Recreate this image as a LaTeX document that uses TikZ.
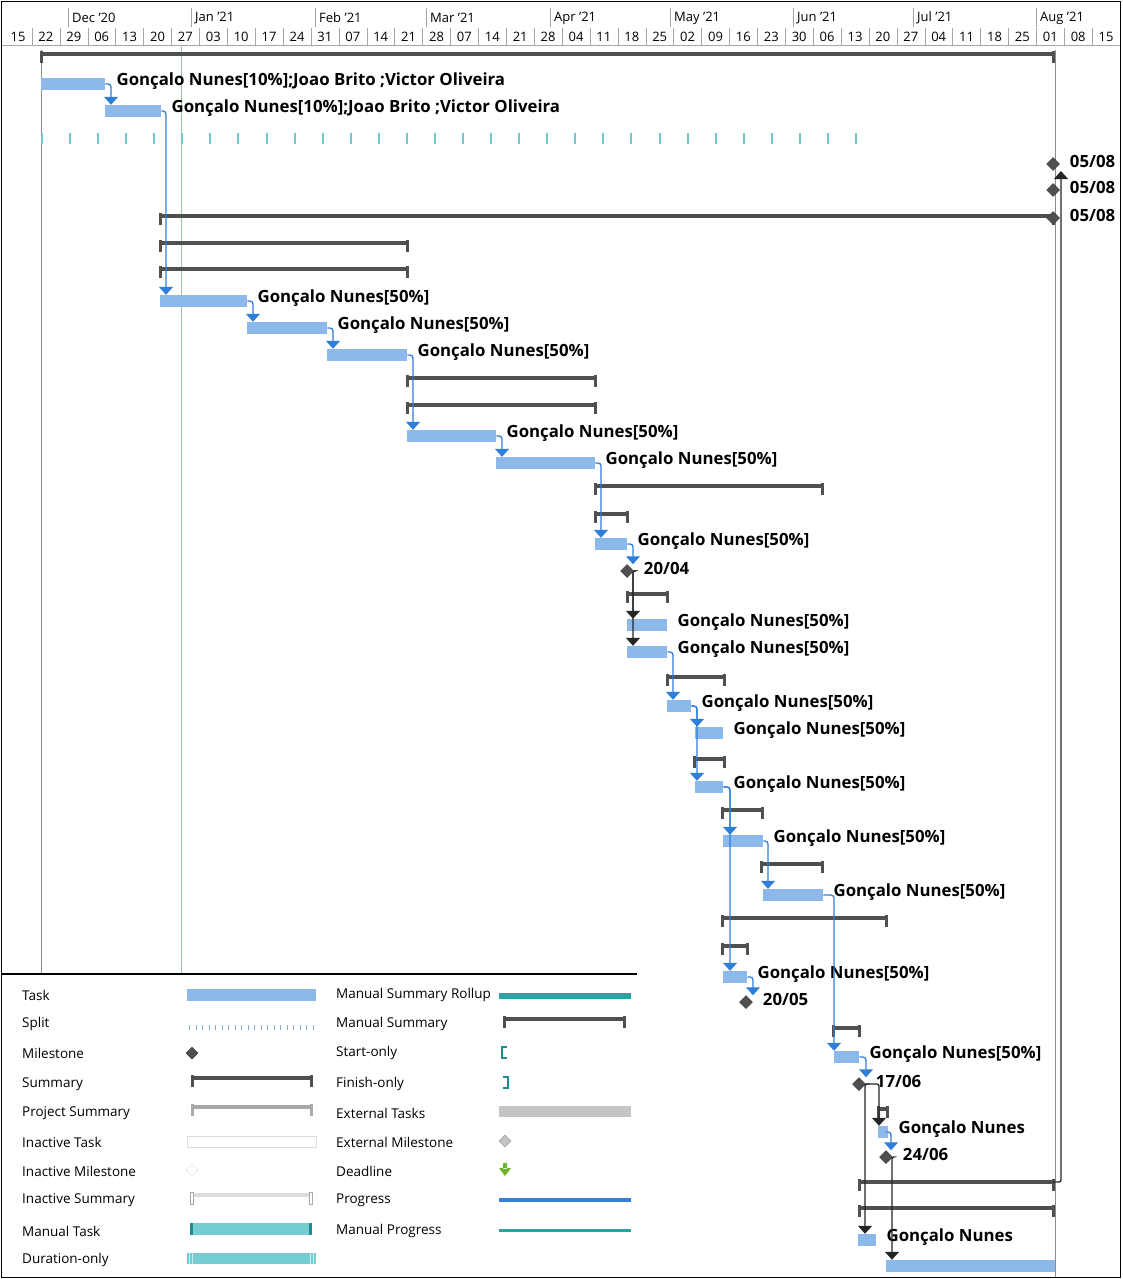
\documentclass[tikz,border=0pt]{standalone}
\usepackage{fontspec}
\setmainfont{Open Sans}
\usetikzlibrary{arrows.meta,positioning,shapes.geometric}
\definecolor{TaskBlue}{HTML}{8CB9EA}
\definecolor{LinkBlue}{HTML}{2F7ED8}
\definecolor{SumGray}{HTML}{505050}
\definecolor{TickTeal}{HTML}{6FC9CF}
\definecolor{RollTeal}{HTML}{2AA2A6}
\definecolor{ManTeal}{HTML}{75CDD2}
\definecolor{EdgeTeal}{HTML}{1E8C90}
\definecolor{TodayGreen}{HTML}{9CC69C}
\definecolor{LineGray}{HTML}{8C8C8C}
\definecolor{HeadGray}{HTML}{A6A6A6}
\definecolor{SplitBlue}{HTML}{86AED0}
\definecolor{ProjGray}{HTML}{A8A8A8}
\definecolor{ExtGray}{HTML}{C4C4C4}
\definecolor{InGray}{HTML}{DCDCDC}
\definecolor{DeadGreen}{HTML}{6CB52C}
\definecolor{ProgBlue}{HTML}{3A7FD5}
\tikzset{
    task/.style = {fill=TaskBlue, minimum height=12, inner sep=0, anchor=west},
    mile/.style = {diamond, fill=SumGray, draw=black!80, line width=0.5pt, inner sep=0, minimum size=13},
    lbl/.style = {font=\fontsize{16.8}{18}\selectfont\bfseries, inner sep=0, anchor=west},
    link/.style = {draw=LinkBlue, line width=1.3pt, rounded corners=3pt, -{Triangle[width=14pt,length=8pt]}},
    blink/.style = {draw=black!85, line width=1.3pt, rounded corners=2pt, -{Triangle[width=14pt,length=8pt]}},
    head/.style = {font=\fontsize{13}{15}\selectfont, inner sep=0},
    legtxt/.style = {font=\fontsize{13.5}{15}\selectfont, inner sep=0, anchor=west}
}
% summary bar from x1 to x2 at row y, with end caps
\newcommand{\sumline}[4][SumGray]{%
    \draw[draw=#1, line width=4pt] (#2,#4) -- (#3,#4);
    \fill[#1] (#2-1.5,#4-3) rectangle (#2+1.5,#4+9);
    \fill[#1] (#3-1.5,#4-3) rectangle (#3+1.5,#4+9);}
\newcommand{\gn}{Gonçalo Nunes[50\%]}

\begin{document}
\begin{tikzpicture}[x=1pt, y=-1pt]
    \useasboundingbox (0,0) rectangle (1122,1279);
    % timescale
    \draw[HeadGray] (2,45) -- (1120,45);
    \foreach \x/\m [count=\i] in {68/Dec '20, 191/Jan '21, 315/Feb '21, 426/Mar '21, 550/Apr '21, 670/May '21, 793/Jun '21, 913/Jul '21, 1036/Aug '21} {
        \draw[HeadGray] (\x,8) -- (\x,27);
        \node[head, anchor=west] (mo\i) at (\x+4,18) {\m};
    }
    \foreach \w [count=\k from 0] in {15,22,29,06,13,20,27,03,10,17,24,31,07,14,21,28,07,14,21,28,04,11,18,25,02,09,16,23,30,06,13,20,27,04,11,18,25,01,08,15}
        \node[head] (wk\k) at (18+27.9*\k,37) {\w};
    \foreach \k in {1,...,39}
        \draw[HeadGray] (4+27.9*\k,28) -- (4+27.9*\k,45);

    % project lines
    \draw[LineGray] (41,50) -- (41,975);
    \draw[TodayGreen] (181,45) -- (181,975);
    \draw[LineGray] (1055,50) -- (1055,1277);

    % bars
    \sumline{41}{1053}{54}
    \node[task, minimum width=64] (t2) at (41,84) {};
    \node[task, minimum width=56] (t3) at (105,111) {};
    \foreach \k in {0,...,29}
        \fill[TickTeal] (41+28.07*\k,133) rectangle ++(2,11);
    \node[mile] (m5) at (1053,164) {};
    \node[mile] (m6) at (1053,190) {};
    \sumline{160}{1053}{216}
    \node[mile] (m7) at (1053,218) {};
    \sumline{160}{407}{243}
    \sumline{160}{407}{269}
    \node[task, minimum width=87] (t10) at (160,301) {};
    \node[task, minimum width=80] (t11) at (247,328) {};
    \node[task, minimum width=80] (t12) at (327,355) {};
    \sumline{407}{595}{378}
    \sumline{407}{595}{405}
    \node[task, minimum width=89] (t15) at (407,436) {};
    \node[task, minimum width=99] (t16) at (496,463) {};
    \sumline{595}{822}{486}
    \sumline{595}{627}{514}
    \node[task, minimum width=32] (t19) at (595,544) {};
    \node[mile] (m20) at (627,571) {};
    \sumline{627}{667}{594}
    \node[task, minimum width=40] (t22) at (627,625) {};
    \node[task, minimum width=40] (t23) at (627,652) {};
    \sumline{667}{724}{677}
    \node[task, minimum width=24] (t25) at (667,706) {};
    \node[task, minimum width=28] (t26) at (695,733) {};
    \sumline{694}{724}{759}
    \node[task, minimum width=28] (t28) at (695,787) {};
    \sumline{722}{762}{810}
    \node[task, minimum width=40] (t30) at (723,841) {};
    \sumline{761}{822}{864}
    \node[task, minimum width=60] (t32) at (763,895) {};
    \sumline{722}{886}{918}
    \sumline{722}{747}{946}
    \node[task, minimum width=24] (t35) at (723,977) {};
    \node[mile] (m36) at (746,1002) {};
    \sumline{833}{859}{1028}
    \node[task, minimum width=25] (t38) at (834,1057) {};
    \node[mile] (m39) at (859,1084) {};
    \sumline{878}{887}{1109}
    \node[task, minimum width=10] (t41) at (878,1132) {};
    \node[mile] (m42) at (886,1157) {};
    \sumline{859}{1053}{1182}
    \coordinate (s43) at (1053,1182);
    \sumline{859}{1053}{1208}
    \node[task, minimum width=18] (t45) at (858,1240) {};
    \node[task, minimum width=169] (t46) at (886,1266) {};

    % labels
    \node[lbl, right=11pt of t2, yshift=3pt] (l2) {Gonçalo Nunes[10\%];Joao Brito ;Victor Oliveira};
    \node[lbl, right=10pt of t3, yshift=3pt] (l3) {Gonçalo Nunes[10\%];Joao Brito ;Victor Oliveira};
    \foreach \t in {t10,t11,t12,t15,t16,t19,t22,t23,t25,t26,t28,t30,t32,t35,t38}
        \node[lbl, right=10pt of \t, yshift=3pt] (l\t) {\gn};
    \node[lbl, right=10pt of t41, yshift=3pt] (lt41) {Gonçalo Nunes};
    \node[lbl, right=10pt of t45, yshift=3pt] (lt45) {Gonçalo Nunes};
    \foreach \m/\d in {m5/{05/08}, m6/{05/08}, m7/{05/08}, m20/{20/04}, m36/{20/05}, m39/{17/06}, m42/{24/06}}
        \node[lbl, right=10pt of \m, yshift=3pt] (l\m) {\d};

    % links
    \draw[link] (t2.east) -| ([xshift=6pt]t3.north west);
    \draw[link] (t3.east) -| ([xshift=6pt]t10.north west);
    \draw[link] (t10.east) -| ([xshift=6pt]t11.north west);
    \draw[link] (t11.east) -| ([xshift=6pt]t12.north west);
    \draw[link] (t12.east) -| ([xshift=6pt]t15.north west);
    \draw[link] (t15.east) -| ([xshift=6pt]t16.north west);
    \draw[link] (t16.east) -| ([xshift=6pt]t19.north west);
    \draw[link] (t19.east) -| ([xshift=6pt]m20.north);
    \draw[blink] (m20.east) -| ([xshift=6pt]t23.north west);
    \draw[blink] (m20.east) -| ([xshift=6pt]t22.north west);
    \draw[link] (t23.east) -| ([xshift=6pt]t25.north west);
    \draw[link] (t25.east) -| ([xshift=2pt]t28.north west);
    \draw[link] (t25.east) -| ([xshift=2pt]t26.north west);
    \draw[link] (t28.east) -| ([xshift=7pt]t35.north west);
    \draw[link] (t28.east) -| ([xshift=7pt]t30.north west);
    \draw[link] (t30.east) -| ([xshift=5pt]t32.north west);
    \draw[link] (t32.east) -| ([xshift=0pt]t38.north west);
    \draw[link] (t35.east) -| ([xshift=7pt]m36.north);
    \draw[link] (t38.east) -| ([xshift=7pt]m39.north);
    \draw[blink] (m39.east) -| ([xshift=7pt]t45.north west);
    \draw[blink] (m39.east) -| ([xshift=1pt]t41.north west);
    \draw[link] (t41.east) -| ([xshift=5pt]m42.north);
    \draw[blink] (m42.east) -| ([xshift=6pt]t46.north west);
    \coordinate (j6) at (1061,171);
    \draw[blink] (s43) -| (j6);

    % legend
    \fill[white] (2.5,975) rectangle (637,1276.5);
    \draw[black, line width=1.5pt] (2,974) -- (637,974);
    \foreach \txt/\yy [count=\i] in {Task/995, Split/1024, Milestone/1053, Summary/1084, Project Summary/1113, Inactive Task/1142, Inactive Milestone/1171, Inactive Summary/1200, Manual Task/1231, Duration-only/1260}
        \node[legtxt] (la\i) at (22,\yy) {\txt};
    \foreach \txt/\yy [count=\i] in {Manual Summary Rollup/995, Manual Summary/1024, Start-only/1053, Finish-only/1084, External Tasks/1113, External Milestone/1142, Deadline/1171, Progress/1200, Manual Progress/1231}
        \node[legtxt] (lb\i) at (336,\yy) {\txt};
    \fill[TaskBlue] (187,989) rectangle (316,1001);
    \foreach \k in {0,...,19}
        \fill[SplitBlue] (189+6.5*\k,1025) rectangle ++(1.3,5);
    \node[mile, minimum size=12] (gm) at (192,1053) {};
    \sumline{192}{311}{1078}
    \sumline[ProjGray]{192}{311}{1107}
    \draw[InGray, fill=white] (187,1136) rectangle (316,1147);
    \node[diamond, draw=InGray, fill=white, inner sep=0, minimum size=12] (gi) at (192,1170) {};
    \sumline[InGray]{192}{311}{1195}
    \draw[ProjGray, fill=white] (190.5,1192) rectangle (193.5,1204);
    \draw[ProjGray, fill=white] (309.5,1192) rectangle (312.5,1204);
    \fill[ManTeal] (191,1223) rectangle (311,1235);
    \fill[EdgeTeal] (190,1223) rectangle (193,1235);
    \fill[EdgeTeal] (309,1223) rectangle (312,1235);
    \fill[ManTeal] (187,1253) rectangle (316,1264);
    \foreach \xx in {189,192,310,313}
        \fill[white!60!ManTeal] (\xx,1253) rectangle ++(1,11);
    \fill[RollTeal] (499,993) rectangle (631,999);
    \sumline{504}{624}{1019}
    \draw[EdgeTeal, line width=2.5pt] (507,1047) -- (502,1047) -- (502,1058) -- (507,1058);
    \draw[EdgeTeal, line width=2.5pt] (503,1077) -- (508,1077) -- (508,1088) -- (503,1088);
    \fill[ExtGray] (499,1106) rectangle (631,1117);
    \node[diamond, draw=LineGray, fill=ExtGray, inner sep=0, minimum size=12] (ge) at (505,1141) {};
    \fill[DeadGreen] (503,1163) rectangle (507,1169) (499,1168) -- (511,1168) -- (505,1176) -- cycle;
    \draw[ProgBlue, line width=4pt] (499,1200) -- (631,1200);
    \draw[RollTeal, line width=3pt] (499,1230) -- (631,1230);

    % frame
    \draw[black, line width=1pt] (1.5,1.5) rectangle (1120.5,1277.5);
\end{tikzpicture}
\end{document}
